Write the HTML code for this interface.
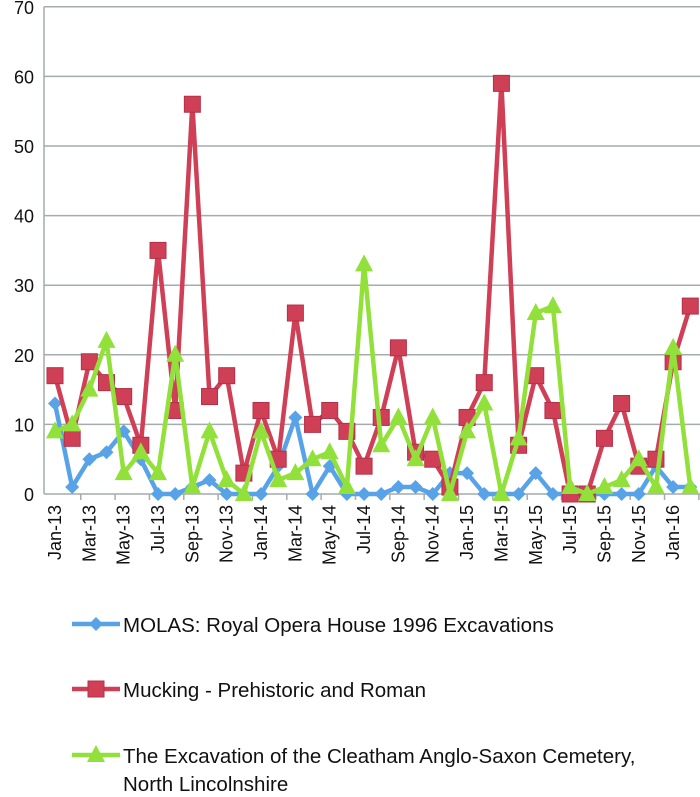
<!DOCTYPE html>
<html><head><meta charset="utf-8"><style>
body{margin:0;background:#fff;font-family:"Liberation Sans",sans-serif;}
svg text{font-family:"Liberation Sans",sans-serif;fill:#111;}
</style></head><body>
<svg id="c" width="700" height="792" xmlns="http://www.w3.org/2000/svg"></svg>
<script>
const months=["Jan-13","Feb-13","Mar-13","Apr-13","May-13","Jun-13","Jul-13","Aug-13","Sep-13","Oct-13","Nov-13","Dec-13","Jan-14","Feb-14","Mar-14","Apr-14","May-14","Jun-14","Jul-14","Aug-14","Sep-14","Oct-14","Nov-14","Dec-14","Jan-15","Feb-15","Mar-15","Apr-15","May-15","Jun-15","Jul-15","Aug-15","Sep-15","Oct-15","Nov-15","Dec-15","Jan-16","Feb-16"];
const molas=[13,1,5,6,9,5,0,0,1,2,0,0,0,4,11,0,4,0,0,0,1,1,0,3,3,0,0,0,3,0,0,0,0,0,0,4,1,1];
const mucking=[17,8,19,16,14,7,35,12,56,14,17,3,12,5,26,10,12,9,4,11,21,6,5,1,11,16,59,7,17,12,0,0,8,13,4,5,19,27];
const cleatham=[9,10,15,22,3,6,3,20,1,9,2,0,9,2,3,5,6,1,33,7,11,5,11,0,9,13,0,8,26,27,1,0,1,2,5,1,21,1];
const yTicks=[0,10,20,30,40,50,60,70];
const NS="http://www.w3.org/2000/svg";
const svg=document.getElementById('c');
const x0=55,dx=17.17,yb=494,ppu=6.96,axL=44,axR=700;
const X=i=>x0+dx*i, Y=v=>yb-v*ppu;
function mk(t,a){const e=document.createElementNS(NS,t);for(const k in a)e.setAttribute(k,a[k]);svg.appendChild(e);return e;}
yTicks.forEach(v=>{
  const l=mk('line',{x1:axL,x2:axR,y1:Y(v),y2:Y(v),stroke:'#a4acae','stroke-width':1.5});
  
  
  const t=mk('text',{x:axL-10,y:Y(v)+7,'text-anchor':'end','font-size':18});
  t.textContent=v;
  
  
});
const ax=mk('line',{x1:axL,x2:axL,y1:Y(70),y2:yb,stroke:'#a4acae','stroke-width':1.5});


months.forEach((m,i)=>{
  if(i%2===1){
    const tk=mk('line',{x1:X(i)+dx/2,x2:X(i)+dx/2,y1:yb,y2:yb+6,stroke:'#a4acae','stroke-width':1.5});
    
    
  }
  if(i%2===0){
    const t=mk('text',{x:0,y:0,'text-anchor':'end','font-size':18,transform:`translate(${X(i)+6},${yb+11}) rotate(-90)`});
    t.textContent=m;
    
    
  }
});
function marker(type,cx,cy,col){
  let e;
  if(type==='d')e=mk('polygon',{points:`${cx},${cy-7} ${cx+7},${cy} ${cx},${cy+7} ${cx-7},${cy}`,fill:col});
  else if(type==='s')e=mk('rect',{x:cx-8,y:cy-8,width:16,height:16,fill:col,stroke:'#b33048','stroke-width':1});
  else e=mk('polygon',{points:`${cx},${cy-10} ${cx+9},${cy+7} ${cx-9},${cy+7}`,fill:col});
  return e;
}
function series(vals,col,type,name){
  const p=mk('polyline',{points:vals.map((v,i)=>X(i)+','+Y(v)).join(' '),fill:'none',stroke:col,'stroke-width':4.5,'stroke-linejoin':'round'});
  
  
  vals.forEach((v,i)=>{
    const m=marker(type,X(i),Y(v),col);
    
    
  });
}
series(molas,'#58a3e8','d','molas');
series(mucking,'#cf4057','s','mucking');
series(cleatham,'#92e03a','t','cleatham');
const leg=[['#58a3e8','d','MOLAS: Royal Opera House 1996 Excavations',624],['#cf4057','s','Mucking - Prehistoric and Roman',689],['#92e03a','t','The Excavation of the Cleatham Anglo-Saxon Cemetery,',755]];
leg.forEach(([c,t,txt,y])=>{
  const l=mk('line',{x1:72,x2:120,y1:y,y2:y,stroke:c,'stroke-width':4.5});
  
  
  const m=marker(t,96,y,c);
  
  
  const te=mk('text',{x:123,y:y+8,'font-size':20.5});
  te.textContent=txt;
  
  
});
const t2=mk('text',{x:123,y:791,'font-size':20.5});
t2.textContent='North Lincolnshire';


</script>
</body></html>
